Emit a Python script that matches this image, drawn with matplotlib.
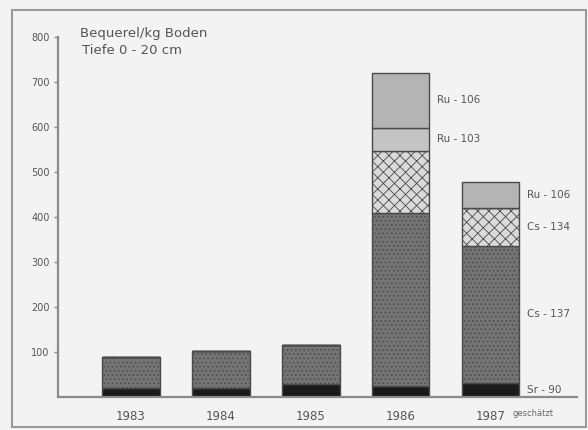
import matplotlib
matplotlib.use('Agg')
import matplotlib.pyplot as plt
from matplotlib.patches import Rectangle
from matplotlib.transforms import blended_transform_factory
import numpy as np

# Bq/kg soil activity per nuclide, depth 0-20 cm
years = ['1983', '1984', '1985', '1986', '1987']
sr90 = [20, 20, 30, 25, 32]
cs137 = [69, 82, 86, 384, 303]
cs134 = [0, 0, 0, 138, 85]
ru103 = [0, 0, 0, 51, 0]
ru106 = [0, 0, 0, 122, 58]

y_ticks = [100, 200, 300, 400, 500, 600, 700, 800]

layers = [
    ('Sr - 90', sr90, '#1a1a1a', None),
    ('Cs - 137', cs137, '#747474', '....'),
    ('Cs - 134', cs134, '#dadada', 'xxx'),
    ('Ru - 103', ru103, '#c4c4c4', None),
    ('Ru - 106', ru106, '#b4b4b4', None),
]

# which bar gets which side labels
labelled = {3: ['Ru - 103', 'Ru - 106'],
            4: ['Sr - 90', 'Cs - 137', 'Cs - 134', 'Ru - 106']}

bg = '#f3f3f3'
fig = plt.figure(figsize=(5.88, 4.30), dpi=100, facecolor=bg)
ax = fig.add_axes([58 / 588, 33 / 430, (577 - 58) / 588, (397 - 37) / 430])
ax.set_facecolor(bg)

x = np.arange(len(years))
width = 0.64
bottom = np.zeros(len(years))
plt.rcParams['hatch.color'] = '#a0a0a0'
plt.rcParams['hatch.linewidth'] = 0.6
for name, vals, color, hatch in layers:
    vals = np.array(vals, dtype=float)
    ax.bar(x, vals, width, bottom=bottom, color=color, hatch=hatch,
           edgecolor='#4a4a4a', linewidth=1.0)
    for i, names in labelled.items():
        if name in names and vals[i] > 0:
            ax.text(x[i] + width / 2 + 0.08, bottom[i] + vals[i] / 2, name,
                    fontsize=7.5, color='#555555', va='center', ha='left',
                    clip_on=False)
    bottom += vals

ax.set_xlim(-0.81, 4.96)
ax.set_ylim(0, 800)
ax.set_yticks(y_ticks)
ax.set_yticklabels([str(t) for t in y_ticks], fontsize=7, color='#555555')
ax.set_xticks(x)
ax.set_xticklabels(years, fontsize=8.5, color='#555555')
ax.tick_params(axis='x', length=0, pad=9)
ax.tick_params(axis='y', length=3, width=1, color='#888888', pad=3)

for side in ['top', 'right']:
    ax.spines[side].set_visible(False)
for side in ['left', 'bottom']:
    ax.spines[side].set_color('#8a8a8a')
    ax.spines[side].set_linewidth(1.6)

# note beside the last year
trans = blended_transform_factory(ax.transData, ax.transAxes)
ax.text(4.24, -0.047, 'geschätzt', transform=trans, fontsize=6,
        color='#666666', ha='left', va='center', clip_on=False)

fig.text(80 / 588, 1 - 33 / 430, 'Bequerel/kg Boden', fontsize=9.5,
         color='#555555', va='center', ha='left')
fig.text(82 / 588, 1 - 50 / 430, 'Tiefe 0 - 20 cm', fontsize=9.5,
         color='#555555', va='center', ha='left')

# outer frame of the figure panel
fig.patches.append(Rectangle((12 / 588, 3 / 430), 574 / 588, 417 / 430,
                             transform=fig.transFigure, fill=False,
                             edgecolor='#9a9a9a', linewidth=1.5))

fig.savefig('out.png', dpi=100, facecolor=bg)
